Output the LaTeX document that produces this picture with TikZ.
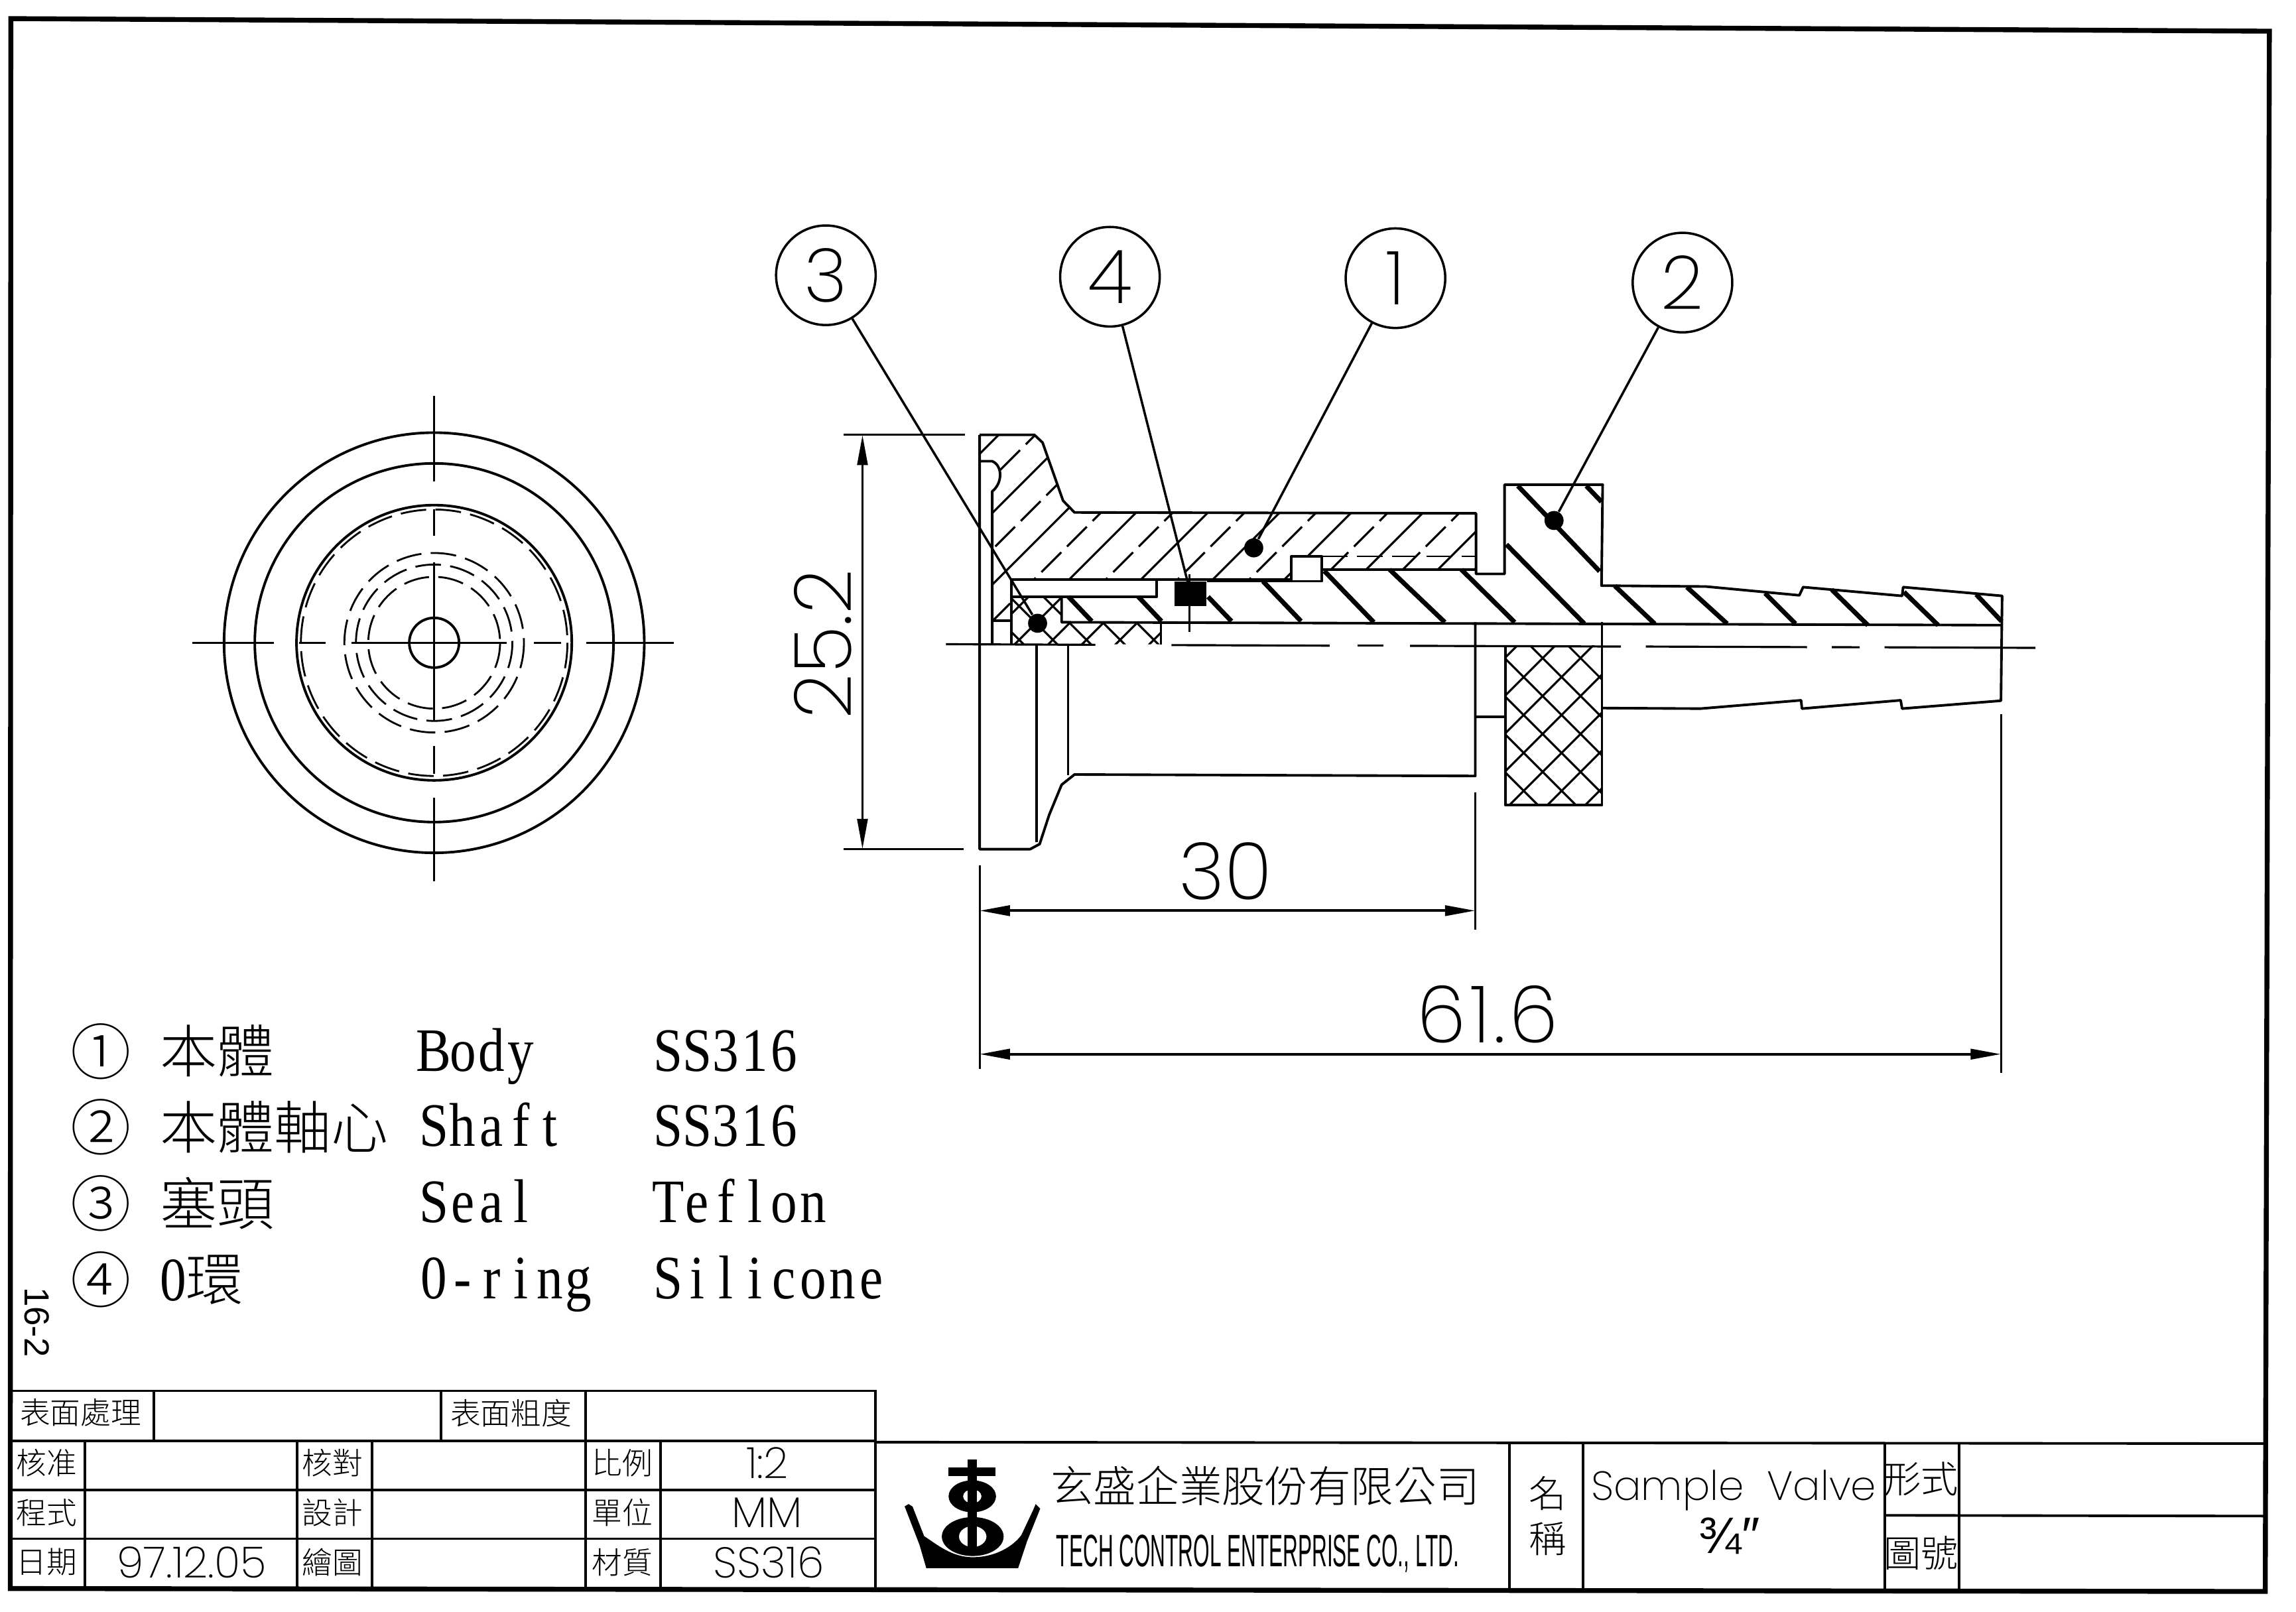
\documentclass[tikz,border=0pt]{standalone}
\usepackage{fontspec}
\usetikzlibrary{arrows.meta}
\newfontfamily\cadfont{Poppins ExtraLight}
\newfontfamily\plainfont{Liberation Sans}
\newfontfamily\cjkfont{Noto Sans CJK TC Light}
\newfontfamily\listfont[FakeStretch=0.85]{Liberation Serif}
\newfontfamily\narrowfont[FakeStretch=0.46]{Liberation Sans}
\newlength{\du}
\setlength{\du}{0.22079mm}
\makeatletter
\newcommand{\monotext}[1]{\@tfor\monochar:=#1\do{\makebox[12.45pt]{\monochar}}}
\makeatother
\tikzset{
  outline/.style={line width=1.1pt,line join=round},
  thinline/.style={line width=0.9pt},
  framepart/.style={line width=2.1pt},
  tablepart/.style={line width=1.1pt},
  hatchsolid/.style={line width=0.9pt},
  hatchdash/.style={line width=0.9pt,dash pattern=on 12pt off 3.5pt},
  hatchthick/.style={line width=2pt},
  hatchcross/.style={line width=0.9pt},
  hidden/.style={line width=0.8pt,dash pattern=on 11pt off 4pt},
  dimline/.style={line width=1.1pt,{Stealth[length=13pt,width=4.4pt,inset=0pt]}-{Stealth[length=13pt,width=4.4pt,inset=0pt]}},
  leader/.style={line width=1pt},
  balloon/.style={circle,draw,line width=1pt,minimum size=68\du,inner sep=0pt,font=\fontsize{32}{32}\cadfont},
  leaderdot/.style={circle,fill=black,minimum size=13\du,inner sep=0pt},
  dimtext/.style={inner sep=0pt,font=\fontsize{34}{34}\cadfont},
  listcirc/.style={inner sep=0pt,font=\fontsize{26}{26}\cjkfont},
  listcjk/.style={anchor=west,inner sep=0pt,font=\fontsize{24.5}{24.5}\cjkfont},
  listtext/.style={anchor=base west,inner sep=0pt,font=\fontsize{26.5}{26.5}\listfont},
  tablelabel/.style={inner sep=0pt,font=\fontsize{13}{13}\cjkfont},
  tablevalue/.style={inner sep=0pt,font=\fontsize{18.5}{18.5}\cadfont},
  titlelabel/.style={inner sep=0pt,font=\fontsize{16}{16}\cjkfont},
}
\begin{document}
\begin{tikzpicture}
\pgftransformxscale{1.000000}
\pgftransformyscale{-1.000000}
\useasboundingbox (0\du,0\du) rectangle (1568\du,1100.6\du);
% frame
\draw[framepart] (7.4\du,12.7\du)--(1549.8\du,21.3\du)--(1547\du,1087\du)--(7\du,1085\du)--cycle;
% end view
\draw[outline] (296.5\du,439\du) circle (143.5\du);
\draw[outline] (296.5\du,439\du) circle (122.5\du);
\draw[outline] (296.5\du,439\du) circle (94\du);
\draw[outline] (296.5\du,439\du) circle (17\du);
\draw[hidden] (296.5\du,439\du) circle (91\du);
\draw[hidden] (296.5\du,439\du) circle (61.3\du);
\draw[hidden] (296.5\du,439\du) circle (53.4\du);
\draw[hidden] (296.5\du,439\du) circle (45\du);
\draw[thinline] (131.2\du,439\du)--(187.2\du,439\du);
\draw[thinline] (204.1\du,439\du)--(222.2\du,439\du);
\draw[thinline] (240.2\du,439\du)--(346.1\du,439\du);
\draw[thinline] (364.5\du,439\du)--(383.2\du,439\du);
\draw[thinline] (400.5\du,439\du)--(460\du,439\du);
\draw[thinline] (296.5\du,270.6\du)--(296.5\du,329\du);
\draw[thinline] (296.5\du,347.8\du)--(296.5\du,366\du);
\draw[thinline] (296.5\du,384\du)--(296.5\du,492\du);
\draw[thinline] (296.5\du,509.3\du)--(296.5\du,528.4\du);
\draw[thinline] (296.5\du,545\du)--(296.5\du,601.7\du);
% body hatch
\begin{scope}
\clip (669\du,297\du)--(706.4\du,297\du)--(712\du,302.3\du)--(726\du,342\du)--(733.8\du,350\du)--(1008\du,350.6\du)--(1008\du,389\du)--(902.8\du,389\du)--(902.8\du,380\du)--(882\du,380\du)--(882\du,396\du)--(690.6\du,396\du)--(690.6\du,424\du)--(677.6\du,424\du)--(677.6\du,335.6\du)..controls (684.8\du,330\du) and (684.8\du,318\du)..(677.6\du,315\du)--(669\du,315\du)--cycle;
\draw[hatchsolid] (689\du,290\du)--(549\du,430\du);
\draw[hatchsolid] (738\du,290\du)--(598\du,430\du);
\draw[hatchsolid] (787\du,290\du)--(647\du,430\du);
\draw[hatchsolid] (836\du,290\du)--(696\du,430\du);
\draw[hatchsolid] (885\du,290\du)--(745\du,430\du);
\draw[hatchsolid] (934\du,290\du)--(794\du,430\du);
\draw[hatchsolid] (983\du,290\du)--(843\du,430\du);
\draw[hatchsolid] (1032\du,290\du)--(892\du,430\du);
\draw[hatchsolid] (1081\du,290\du)--(941\du,430\du);
\draw[hatchdash] (714\du,290\du)--(574\du,430\du);
\draw[hatchdash] (763\du,290\du)--(623\du,430\du);
\draw[hatchdash] (812\du,290\du)--(672\du,430\du);
\draw[hatchdash] (861\du,290\du)--(721\du,430\du);
\draw[hatchdash] (910\du,290\du)--(770\du,430\du);
\draw[hatchdash] (959\du,290\du)--(819\du,430\du);
\draw[hatchdash] (1008\du,290\du)--(868\du,430\du);
\draw[hatchdash] (1057\du,290\du)--(917\du,430\du);
\draw[hatchdash] (1106\du,290\du)--(966\du,430\du);
\end{scope}
% seal hatch
\begin{scope}
\clip (691\du,407.6\du)--(725\du,407.6\du)--(725\du,425\du)--(792.8\du,425\du)--(792.8\du,440\du)--(691\du,440\du)--cycle;
\draw[hatchcross] (659\du,400\du)--(704\du,445\du);
\draw[hatchcross] (682\du,400\du)--(727\du,445\du);
\draw[hatchcross] (705\du,400\du)--(750\du,445\du);
\draw[hatchcross] (728\du,400\du)--(773\du,445\du);
\draw[hatchcross] (751\du,400\du)--(796\du,445\du);
\draw[hatchcross] (710\du,400\du)--(665\du,445\du);
\draw[hatchcross] (733\du,400\du)--(688\du,445\du);
\draw[hatchcross] (756\du,400\du)--(711\du,445\du);
\draw[hatchcross] (779\du,400\du)--(734\du,445\du);
\draw[hatchcross] (802\du,400\du)--(757\du,445\du);
\draw[hatchcross] (825\du,400\du)--(780\du,445\du);
\end{scope}
% knurl hatch
\begin{scope}
\clip (1028\du,441\du) rectangle (1094\du,550\du);
\draw[hatchcross] (940.4\du,440\du)--(1051.4\du,551\du);
\draw[hatchcross] (966.3\du,440\du)--(1077.3\du,551\du);
\draw[hatchcross] (992.2\du,440\du)--(1103.2\du,551\du);
\draw[hatchcross] (1018.1\du,440\du)--(1129.1\du,551\du);
\draw[hatchcross] (1044\du,440\du)--(1155\du,551\du);
\draw[hatchcross] (1069.9\du,440\du)--(1180.9\du,551\du);
\draw[hatchcross] (1037.1\du,440\du)--(926.1\du,551\du);
\draw[hatchcross] (1063\du,440\du)--(952\du,551\du);
\draw[hatchcross] (1088.9\du,440\du)--(977.9\du,551\du);
\draw[hatchcross] (1114.8\du,440\du)--(1003.8\du,551\du);
\draw[hatchcross] (1140.7\du,440\du)--(1029.7\du,551\du);
\draw[hatchcross] (1166.6\du,440\du)--(1055.6\du,551\du);
\draw[hatchcross] (1192.5\du,440\du)--(1081.5\du,551\du);
\end{scope}
% shaft hatch
\draw[hatchthick] (729.7\du,407.6\du)--(745.6\du,424.3\du);
\draw[hatchthick] (777.4\du,407.6\du)--(793.2\du,424.3\du);
\draw[hatchthick] (825\du,407.6\du)--(841\du,424.3\du);
\draw[hatchthick] (862.5\du,397\du)--(888.5\du,424.3\du);
\draw[hatchthick] (904.4\du,390\du)--(938.2\du,425\du);
\draw[hatchthick] (949\du,389\du)--(986.7\du,425\du);
\draw[hatchthick] (998\du,389\du)--(1034.4\du,425\du);
\draw[hatchthick] (1028.8\du,371.9\du)--(1082\du,426\du);
\draw[hatchthick] (1036.6\du,331.9\du)--(1092.4\du,390.2\du);
\draw[hatchthick] (1083.3\du,331.9\du)--(1093.7\du,342.7\du);
\draw[hatchthick] (1102.8\du,400.2\du)--(1130\du,426\du);
\draw[hatchthick] (1152\du,401\du)--(1179.5\du,426\du);
\draw[hatchthick] (1205.4\du,405.2\du)--(1226.2\du,426\du);
\draw[hatchthick] (1250.9\du,402.7\du)--(1275.6\du,427\du);
\draw[hatchthick] (1300.3\du,404.4\du)--(1323.6\du,427\du);
\draw[hatchthick] (1349.6\du,406\du)--(1367\du,424.4\du);
% section outline
\draw[outline] (669\du,297\du)--(706.4\du,297\du)--(712\du,302.3\du)--(726\du,342\du)--(733.8\du,350\du)--(1008\du,350.6\du)--(1008\du,392\du)--(1027.5\du,392\du)--(1027.5\du,331\du)--(1094.5\du,331\du)--(1093.7\du,400\du)--(1165\du,400.6\du)--(1228.8\du,406.6\du)--(1231.4\du,401\du)--(1299\du,407\du)--(1299.7\du,401\du)--(1367.3\du,407\du)--(1366.5\du,478.6\du)--(1299\du,484\du)--(1298\du,478.3\du)--(1230.6\du,484\du)--(1230\du,478.3\du)--(1161.3\du,484\du)--(1093.7\du,483.6\du);
\draw[outline] (669\du,297\du)--(669\du,580\du)--(703.5\du,580\du)--(710\du,576.5\du)--(716.5\du,556.6\du)--(725\du,536\du)--(733.8\du,529\du)--(1007.5\du,530\du)--(1007.5\du,425\du);
\draw[outline] (729.4\du,440\du)--(729.4\du,529.5\du);
\draw[outline] (707.8\du,440\du)--(707.8\du,575.4\du);
\draw[outline] (669\du,315\du)--(677.6\du,315\du)..controls (684.8\du,318\du) and (684.8\du,330\du)..(677.6\du,335.6\du)--(677.6\du,440\du);
\draw[outline] (677.6\du,424\du)--(690.6\du,424\du);
\draw[outline] (690.6\du,440\du)--(690.6\du,396\du)--(882\du,396\du)--(882\du,380\du)--(902.8\du,380\du)--(902.8\du,397\du)--(882\du,397\du);
\draw[outline] (902.8\du,389\du)--(1008\du,389\du);
\draw[hidden] (902.8\du,380\du)--(1008\du,380\du);
\draw[outline] (690.6\du,407.6\du)--(790\du,407.6\du)--(790\du,396\du);
\draw[outline] (725\du,407.6\du)--(725\du,425\du)--(1367.3\du,427\du);
\draw[outline] (792.8\du,425\du)--(792.8\du,440\du);
\draw[outline] (824.5\du,397\du)--(882\du,397\du);
\fill[black] (802\du,397\du) rectangle (824\du,414\du);
\draw[thinline] (812.4\du,392\du)--(812.4\du,431.5\du);
\draw[outline] (1028\du,441\du)--(1028\du,550\du)--(1094\du,550\du)--(1094\du,425\du);
\draw[outline] (1008\du,489.5\du)--(1028\du,489.5\du);
% center line
\draw[thinline] (646\du,440\du)--(748\du,440.4\du);
\draw[thinline] (800\du,440.6\du)--(908\du,441\du);
\draw[thinline] (927\du,441\du)--(945\du,441\du);
\draw[thinline] (963\du,441.1\du)--(1107\du,441.6\du);
\draw[thinline] (1124\du,441.6\du)--(1234\du,442\du);
\draw[thinline] (1251\du,442\du)--(1270\du,442.1\du);
\draw[thinline] (1287\du,442.1\du)--(1390\du,442.5\du);
% balloons
\node[balloon] (b3) at (564\du,188\du){3};
\node[balloon] (b4) at (758\du,189\du){4};
\node[balloon] (b1) at (953\du,190\du){1};
\node[balloon] (b2) at (1149\du,193\du){2};
\node[leaderdot] (d3) at (708.6\du,425.7\du){};
\coordinate (d4) at (813\du,405\du);
\node[leaderdot] (d1) at (856.2\du,374.2\du){};
\node[leaderdot] (d2) at (1061.3\du,355.5\du){};
\draw[leader] (b3)--(d3);
\draw[leader] (b4)--(d4);
\draw[leader] (b1)--(d1);
\draw[leader] (b2)--(d2);
% dimensions
\draw[thinline] (576\du,297\du)--(659\du,297\du);
\draw[thinline] (576\du,580\du)--(658\du,580\du);
\draw[thinline] (669\du,591\du)--(669\du,730\du);
\draw[thinline] (1007.5\du,541\du)--(1007.5\du,635\du);
\draw[thinline] (1366.5\du,488\du)--(1366.5\du,733\du);
\coordinate (dimaa) at (589\du,297\du);
\coordinate (dimab) at (589\du,580\du);
\coordinate (dimba) at (669\du,622\du);
\coordinate (dimbb) at (1007.5\du,622\du);
\coordinate (dimca) at (669\du,720\du);
\coordinate (dimcb) at (1366.5\du,720\du);
\draw[dimline] (dimaa)--(dimab);
\draw[dimline] (dimba)--(dimbb);
\draw[dimline] (dimca)--(dimcb);
\node[dimtext,rotate=90] (dimtexta) at (562\du,440\du){25.2};
\node[dimtext] (dimtextb) at (837\du,595\du){30};
\node[dimtext] (dimtextc) at (1016\du,693\du){6\kern1.5pt 1\kern1.5pt .\kern1.5pt 6};
% parts list
\node[listcirc] (circa) at (69\du,718\du){①};
\node[listcirc] (circb) at (69\du,770\du){②};
\node[listcirc] (circc) at (69\du,822\du){③};
\node[listcirc] (circd) at (69\du,874\du){④};
\node[listcjk] (namea) at (109\du,718\du){本體};
\node[listcjk] (nameb) at (109\du,770\du){本體軸心};
\node[listcjk] (namec) at (109\du,822\du){塞頭};
\node[listcjk] (named) at (109\du,874\du){{\fontsize{26.5}{26.5}\listfont 0}環};
\node[listtext] (parta) at (286\du,731.5\du){\monotext{Body}};
\node[listtext] (partb) at (286\du,783\du){\monotext{Shaft}};
\node[listtext] (partc) at (286\du,835\du){\monotext{Seal}};
\node[listtext] (partd) at (286\du,887\du){\monotext{0-ring}};
\node[listtext] (mata) at (446\du,731.5\du){\monotext{SS316}};
\node[listtext] (matb) at (446\du,783\du){\monotext{SS316}};
\node[listtext] (matc) at (446\du,835\du){\monotext{Teflon}};
\node[listtext] (matd) at (446\du,887\du){\monotext{Silicone}};
\node[inner sep=0pt,rotate=-90,font=\fontsize{15}{15}\plainfont] (sheetno) at (25\du,903\du){16-2};
% title block left
\draw[tablepart] (7\du,950\du)--(598\du,950\du)--(598\du,1086\du);
\draw[tablepart] (7\du,984\du)--(598\du,984\du);
\draw[tablepart] (7\du,1017.5\du)--(598\du,1017.5\du);
\draw[tablepart] (7\du,1051\du)--(598\du,1051\du);
\draw[tablepart] (105\du,950\du)--(105\du,984\du);
\draw[tablepart] (301\du,950\du)--(301\du,984\du);
\draw[tablepart] (400\du,950\du)--(400\du,1085\du);
\draw[tablepart] (58\du,984\du)--(58\du,1085\du);
\draw[tablepart] (203\du,984\du)--(203\du,1085\du);
\draw[tablepart] (254\du,984\du)--(254\du,1085\du);
\draw[tablepart] (451\du,984\du)--(451\du,1085\du);
\node[tablelabel] (surfa) at (55\du,965\du){表面處理};
\node[tablelabel] (surfb) at (349\du,965\du){表面粗度};
\node[tablelabel] (checka) at (32\du,999\du){核准};
\node[tablelabel] (proga) at (32\du,1033\du){程式};
\node[tablelabel] (datea) at (32\du,1067\du){日期};
\node[tablelabel] (checkb) at (227\du,999\du){核對};
\node[tablelabel] (desa) at (227\du,1033\du){設計};
\node[tablelabel] (drawa) at (227\du,1067\du){繪圖};
\node[tablelabel] (scalea) at (425\du,999\du){比例};
\node[tablelabel] (unita) at (425\du,1033\du){單位};
\node[tablelabel] (matla) at (425\du,1067\du){材質};
\node[tablevalue] (datev) at (131\du,1067\du){97.12.05};
\node[tablevalue] (scalev) at (524\du,999\du){1:2};
\node[tablevalue] (unitv) at (524\du,1033\du){MM};
\node[tablevalue] (matv) at (525\du,1067\du){SS316};
% title block right
\draw[tablepart] (598\du,985\du)--(1548\du,986\du);
\draw[tablepart] (1031\du,985\du)--(1031\du,1086\du);
\draw[tablepart] (1081\du,985\du)--(1081\du,1086\du);
\draw[tablepart] (1287\du,985\du)--(1287\du,1086\du);
\draw[tablepart] (1338\du,985\du)--(1338\du,1086\du);
\draw[tablepart] (1287\du,1035\du)--(1548\du,1035.5\du);
% logo
\fill[black] (661\du,997\du) rectangle (667.3\du,1061\du);
\fill[black] (647.7\du,1002.4\du) rectangle (680\du,1008\du);
\fill[black,even odd rule] (664\du,1022\du) ellipse [x radius=16.2\du,y radius=10.9\du] (664\du,1022\du) ellipse [x radius=6.3\du,y radius=4.8\du];
\fill[black,even odd rule] (664.3\du,1049.5\du) ellipse [x radius=21.1\du,y radius=13.3\du] (664.3\du,1049.5\du) ellipse [x radius=9.4\du,y radius=7.2\du];
\fill[black] (661\du,1015\du) rectangle (667.3\du,1061\du);
\fill[black] (617.8\du,1028.9\du)--(620.5\du,1027.3\du)--(623.2\du,1029\du)--(631.1\du,1049.2\du)..controls (640\du,1055\du) and (650\du,1063.6\du)..(664.3\du,1063.6\du)..controls (680\du,1063.6\du) and (692\du,1056\du)..(697.5\du,1048.5\du)--(705\du,1032.6\du)--(707.3\du,1027.3\du)--(710.4\du,1030.4\du)--(701.3\du,1053\du)--(695.3\du,1071.1\du)--(632.6\du,1071.1\du)--(628\du,1055.3\du)--cycle;
\node[inner sep=0pt,font=\fontsize{18.4}{18.4}\cjkfont] (cocn) at (864\du,1015\du){玄盛企業股份有限公司};
\node[inner sep=0pt,font=\fontsize{19.5}{19.5}\narrowfont] (coen) at (859\du,1061\du){TECH CONTROL ENTERPRISE CO., LTD.};
\node[titlelabel] (namelaba) at (1057\du,1020\du){名};
\node[titlelabel] (namelabb) at (1057\du,1051\du){稱};
\node[inner sep=0pt,font=\fontsize{17.5}{17.5}\cadfont] (valvename) at (1184\du,1018\du){Sample\ \ Valve};
\node[inner sep=0pt,font=\fontsize{22}{22}\plainfont] (valvesize) at (1181\du,1049\du){¾″};
\node[titlelabel] (forma) at (1312\du,1010\du){形式};
\node[titlelabel] (drawno) at (1312\du,1061\du){圖號};
\end{tikzpicture}
\end{document}
